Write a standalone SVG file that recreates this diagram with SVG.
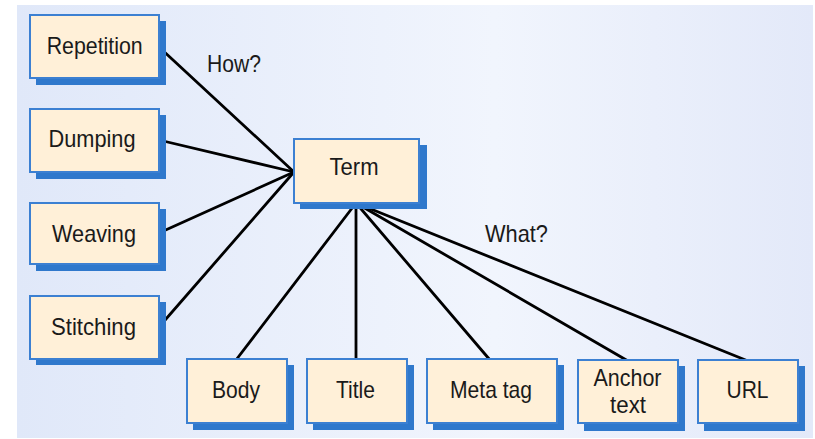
<svg xmlns="http://www.w3.org/2000/svg" width="815" height="439" viewBox="0 0 815 439">
<defs>
<linearGradient id="bg" x1="0" y1="0" x2="1" y2="0">
<stop offset="0" stop-color="#e0e8f9"/>
<stop offset="0.6" stop-color="#f1f5fd"/>
<stop offset="1" stop-color="#e3e9f9"/>
</linearGradient>
</defs>
<style>
.sh{fill:#2f78cc}
.bx{fill:#fff0d8;stroke:#3c80d2;stroke-width:2}
.t{font-family:"Liberation Sans",Arial,sans-serif;font-size:24px;fill:#1a1a1a;text-anchor:middle}
.c line{stroke:#000;stroke-width:2.8;stroke-linecap:round}
</style>
<rect width="815" height="439" fill="#fff"/>
<rect x="17" y="5" width="796" height="433" fill="url(#bg)"/>
<g class="c" id="connectors">
<line x1="159" y1="47" x2="294" y2="172"/>
<line x1="159" y1="140" x2="294" y2="172"/>
<line x1="159" y1="233" x2="294" y2="172"/>
<line x1="159" y1="327" x2="294" y2="172"/>
<line x1="356" y1="203" x2="236" y2="360"/>
<line x1="356" y1="203" x2="356" y2="360"/>
<line x1="356" y1="203" x2="490" y2="360"/>
<line x1="356" y1="203" x2="628" y2="361"/>
<line x1="356" y1="203" x2="748" y2="361"/>
</g>
<text class="t" x="234" y="72" textLength="54" lengthAdjust="spacingAndGlyphs">How?</text>
<text class="t" x="516.5" y="242" textLength="63" lengthAdjust="spacingAndGlyphs">What?</text>
<g id="repetition"><rect class="sh" x="36" y="21" width="130" height="64"/><rect class="bx" x="30" y="15" width="129" height="63"/><text class="t" x="94.7" y="54" textLength="96" lengthAdjust="spacingAndGlyphs">Repetition</text></g>
<g id="dumping"><rect class="sh" x="36" y="115" width="130" height="64"/><rect class="bx" x="30" y="109" width="129" height="63"/><text class="t" x="92" y="147" textLength="87" lengthAdjust="spacingAndGlyphs">Dumping</text></g>
<g id="weaving"><rect class="sh" x="36" y="209" width="130" height="62"/><rect class="bx" x="30" y="203" width="129" height="61"/><text class="t" x="94" y="242" textLength="84" lengthAdjust="spacingAndGlyphs">Weaving</text></g>
<g id="stitching"><rect class="sh" x="36" y="302" width="130" height="63"/><rect class="bx" x="30" y="296" width="129" height="63"/><text class="t" x="93.5" y="335" textLength="85" lengthAdjust="spacingAndGlyphs">Stitching</text></g>
<g id="term"><rect class="sh" x="300" y="145" width="127" height="64"/><rect class="bx" x="294" y="139" width="125" height="64"/><text class="t" x="354" y="175" textLength="49" lengthAdjust="spacingAndGlyphs">Term</text></g>
<g id="body"><rect class="sh" x="193" y="365" width="101" height="65"/><rect class="bx" x="187" y="359" width="100" height="64"/><text class="t" x="236" y="398" textLength="48" lengthAdjust="spacingAndGlyphs">Body</text></g>
<g id="title"><rect class="sh" x="313" y="365" width="101" height="65"/><rect class="bx" x="307" y="359" width="100" height="64"/><text class="t" x="355.5" y="398" textLength="39" lengthAdjust="spacingAndGlyphs">Title</text></g>
<g id="metatag"><rect class="sh" x="433" y="365" width="131" height="65"/><rect class="bx" x="427" y="359" width="130" height="64"/><text class="t" x="491" y="398" textLength="82" lengthAdjust="spacingAndGlyphs">Meta tag</text></g>
<g id="anchortext"><rect class="sh" x="584" y="366" width="101" height="65"/><rect class="bx" x="578" y="360" width="100" height="63"/><text class="t" x="627.5" y="386" textLength="68" lengthAdjust="spacingAndGlyphs">Anchor</text><text class="t" x="628" y="413" textLength="36" lengthAdjust="spacingAndGlyphs">text</text></g>
<g id="url"><rect class="sh" x="704" y="366" width="101" height="65"/><rect class="bx" x="698" y="360" width="100" height="63"/><text class="t" x="747.5" y="398" textLength="42" lengthAdjust="spacingAndGlyphs">URL</text></g>
</svg>
